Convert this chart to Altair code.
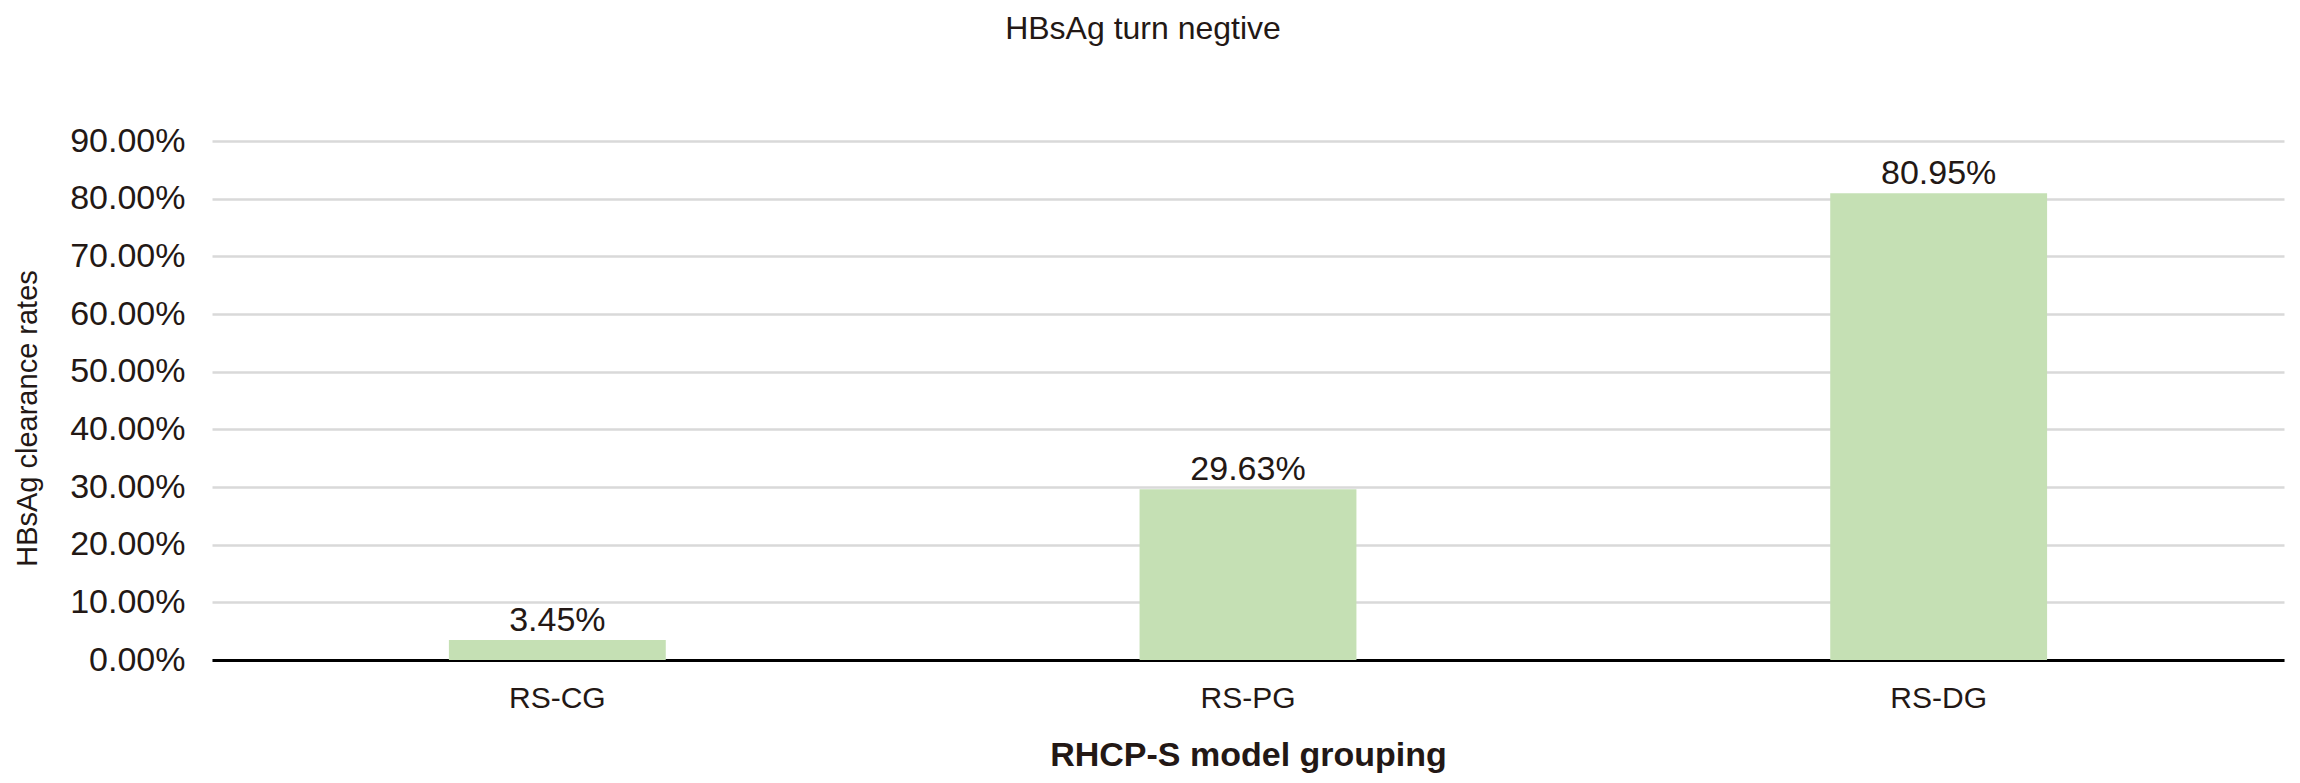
import altair as alt
import pandas as pd

groups = ["RS-CG", "RS-PG", "RS-DG"]
rates = [0.0345, 0.2963, 0.8095]
rate_labels = ["3.45%", "29.63%", "80.95%"]
y_ticks = [0.0, 0.1, 0.2, 0.3, 0.4, 0.5, 0.6, 0.7, 0.8, 0.9]

df = pd.DataFrame({"group": groups, "rate": rates, "label": rate_labels})

FONT = "Liberation Sans"
TXT = "#231815"

x_enc = alt.X(
    "group:N",
    sort=groups,
    scale=alt.Scale(domain=groups, paddingInner=0.686, paddingOuter=0.343),
    axis=alt.Axis(
        title="RHCP-S model grouping",
        labelAngle=0,
        labelFont=FONT,
        labelFontSize=30,
        labelColor=TXT,
        labelPadding=23,
        ticks=False,
        tickSize=0,
        domainColor="#000000",
        domainWidth=3,
        grid=False,
        titleFont=FONT,
        titleFontSize=34,
        titleFontWeight="bold",
        titleColor=TXT,
        titleY=105,
        titleBaseline="alphabetic",
    ),
)

y_enc = alt.Y(
    "rate:Q",
    scale=alt.Scale(domain=[0, 0.9], nice=False, zero=True),
    axis=alt.Axis(
        values=y_ticks,
        format=".2%",
        title="HBsAg clearance rates",
        labelFont=FONT,
        labelFontSize=34,
        labelColor=TXT,
        labelPadding=27,
        ticks=False,
        tickSize=0,
        domain=False,
        grid=True,
        gridColor="#D9D9D9",
        gridWidth=2.5,
        titleFont=FONT,
        titleFontSize=29,
        titleFontWeight="normal",
        titleColor=TXT,
        titleAngle=270,
        titleX=-185,
        titleY=277,
        titleAlign="center",
        titleBaseline="middle",
    ),
)

base = alt.Chart(df).encode(x=x_enc, y=y_enc)

bars = base.mark_bar(color="#C5E0B4")

text = base.mark_text(
    baseline="alphabetic", dy=-9, fontSize=34, font=FONT, color=TXT
).encode(text="label:N")

chart = (
    alt.layer(bars, text)
    .properties(
        width=2072,
        height=519,
        padding={"left": 204, "top": 133, "right": 8, "bottom": 115},
        autosize=alt.AutoSizeParams(type="none"),
        background="white",
        title=alt.TitleParams(
            "HBsAg turn negtive",
            font=FONT,
            fontSize=32,
            fontWeight="normal",
            color=TXT,
            anchor="middle",
            frame="group",
            dx=-105,
            baseline="alphabetic",
            offset=53,
        ),
    )
    .configure_view(stroke=None)
)

chart.save("out.html", embed_options={"renderer": "svg", "actions": False})
